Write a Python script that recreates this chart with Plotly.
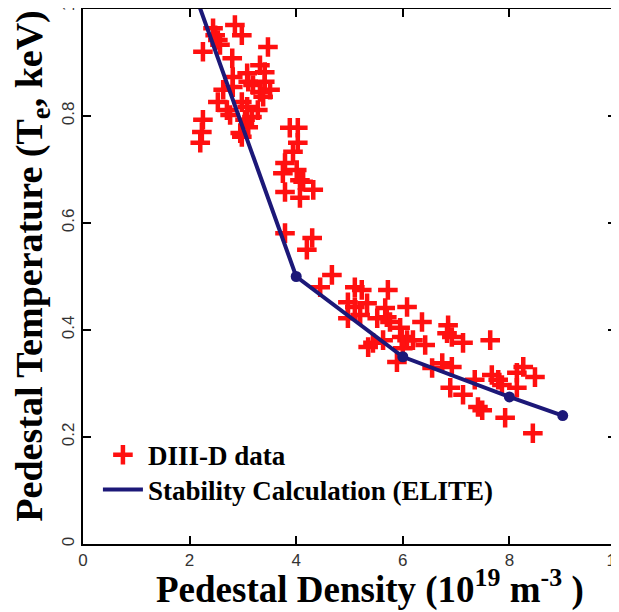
import plotly.graph_objects as go

# DIII-D 측정 데이터 (밀도 10^19 m^-3, 온도 keV)
density = [2.44, 2.48, 2.53, 2.57, 2.85, 2.98, 2.25, 2.80, 3.47, 3.32,
           3.08, 3.41, 2.81, 3.10, 3.19, 3.41, 3.51, 3.32, 3.38, 2.63,
           2.81, 2.53, 2.98, 3.08, 2.70, 3.28, 2.76, 3.17, 3.04, 3.10,
           2.95, 2.25, 2.23, 2.20, 2.98,
           3.88, 4.03, 4.03, 3.94, 3.79, 3.75, 4.01, 4.07, 4.13, 3.79,
           4.07, 4.32, 3.79, 4.30, 4.20, 4.67, 4.45,
           5.10, 5.23, 5.72, 4.97, 5.10, 5.33, 6.08, 5.67, 5.70, 5.52,
           5.76, 5.20, 4.97, 6.36, 5.95, 5.98, 5.63, 5.44, 5.35, 6.08,
           6.19, 6.00, 5.89, 6.42,
           6.85, 6.83, 6.92, 7.13, 7.64, 6.55, 6.74, 6.92, 7.35, 7.67,
           7.79, 7.86, 6.89, 7.13, 8.14, 8.26, 8.48, 8.14, 7.41, 7.49,
           7.92, 8.44]
temperature = [0.964, 0.951, 0.942, 0.933, 0.970, 0.951, 0.920, 0.908, 0.929, 0.895,
               0.880, 0.882, 0.873, 0.864, 0.858, 0.864, 0.849, 0.845, 0.836, 0.849,
               0.854, 0.826, 0.826, 0.817, 0.811, 0.811, 0.802, 0.798, 0.793, 0.779,
               0.768, 0.793, 0.770, 0.750, 0.761,
               0.778, 0.778, 0.750, 0.733, 0.712, 0.693, 0.699, 0.680, 0.677, 0.658,
               0.647, 0.662, 0.581, 0.572, 0.550, 0.503, 0.480,
               0.480, 0.475, 0.475, 0.452, 0.443, 0.450, 0.443, 0.441, 0.424, 0.422,
               0.415, 0.428, 0.422, 0.415, 0.404, 0.387, 0.381, 0.376, 0.368, 0.381,
               0.381, 0.366, 0.340, 0.372,
               0.409, 0.394, 0.387, 0.376, 0.381, 0.329, 0.338, 0.331, 0.307, 0.316,
               0.307, 0.297, 0.292, 0.279, 0.320, 0.331, 0.312, 0.292, 0.256, 0.250,
               0.236, 0.207]

# ELITE 안정성 계산
elite_density = [2.0, 4.0, 6.0, 8.0, 9.0]
elite_temp = [1.056, 0.50, 0.35, 0.275, 0.24]

x_ticks = [0, 2, 4, 6, 8, 10]
y_ticks = [0, 0.2, 0.4, 0.6, 0.8, 1]

navy = "#1c1878"
serif = "Liberation Serif"
legend_font = dict(family=serif, size=27, color='black', weight='bold')

fig = go.Figure()

fig.add_trace(go.Scatter(
    x=density, y=temperature,
    mode='markers',
    marker=dict(symbol='cross-thin', size=14, line=dict(color='#ff1010', width=4.5)),
    name='DIII-D data',
    legend='legend'
))

fig.add_trace(go.Scatter(
    x=elite_density, y=elite_temp,
    mode='lines',
    line=dict(color=navy, width=4),
    name='Stability Calculation (ELITE)',
    legend='legend2'
))

# 노드 마커 (범례에는 표시 안 함)
fig.add_trace(go.Scatter(
    x=elite_density[1:], y=elite_temp[1:],
    mode='markers',
    marker=dict(color=navy, size=11),
    showlegend=False
))

axis_common = dict(
    showline=True, linecolor='black', linewidth=2, mirror='ticks',
    ticks='inside', ticklen=8, tickwidth=1.5, tickcolor='black',
    showgrid=False, zeroline=False, automargin=False,
    ticklabeloverflow='allow',
    tickfont=dict(family='Liberation Sans', size=17, color='#333333'),
)

# 페이지 body 여백(8px)을 감안해 그림 크기를 줄임
fig.update_layout(
    width=611, height=604,
    margin=dict(l=75, r=3, t=1, b=68),
    plot_bgcolor='white', paper_bgcolor='white',
    showlegend=True,
    legend=dict(x=0.028, y=0.166, xanchor='left', yanchor='middle',
                bgcolor='rgba(0,0,0,0)', font=legend_font, itemwidth=40),
    legend2=dict(x=0.028, y=0.101, xanchor='left', yanchor='middle',
                 bgcolor='rgba(0,0,0,0)', font=legend_font, itemwidth=40),
    xaxis=dict(range=[0, 10], tickvals=x_ticks, **axis_common),
    yaxis=dict(range=[0, 1], tickvals=y_ticks, tickangle=-90, **axis_common),
    annotations=[
        dict(text='Pedestal Density (10<sup>19</sup> m<sup>-3</sup> )',
             xref='paper', yref='paper', x=0.538, y=-0.08,
             xanchor='center', yanchor='middle', showarrow=False,
             font=dict(family=serif, size=37, color='black', weight='bold')),
        dict(text='Pedestal Temperature (T<sub>e</sub>, keV)',
             xref='paper', yref='paper', x=-0.096, y=0.52, textangle=-90,
             xanchor='center', yanchor='middle', showarrow=False,
             font=dict(family=serif, size=38, color='black', weight='bold')),
    ],
)

fig.write_html("out.html")
